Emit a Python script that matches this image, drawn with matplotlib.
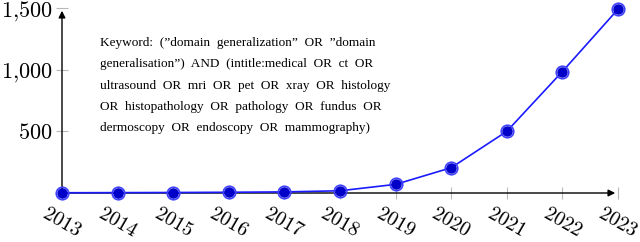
import matplotlib
matplotlib.use("Agg")
import matplotlib.pyplot as plt

plt.rcParams['mathtext.fontset'] = 'cm'

years = [2013, 2014, 2015, 2016, 2017, 2018, 2019, 2020, 2021, 2022, 2023]
counts = [2, 3, 4, 6, 9, 18, 70, 205, 500, 985, 1490]
yticks = [500, 1000, 1500]
ytick_labels = ['$500$', '$1{,}000$', '$1{,}500$']

note_lines = [
    'Keyword: (\u201ddomain generalization\u201d OR \u201ddomain',
    'generalisation\u201d) AND (intitle:medical OR ct OR',
    'ultrasound OR mri OR pet OR xray OR histology',
    'OR histopathology OR pathology OR fundus OR',
    'dermoscopy OR endoscopy OR mammography)',
]

fig = plt.figure(figsize=(6.4, 2.42), dpi=100)
ax = fig.add_axes([62 / 640, 1 - 193 / 242, (618 - 62) / 640, (193 - 8) / 242])

ax.plot(years, counts, color='#1a1aff', lw=1.2, zorder=3, clip_on=False)
ax.plot(years, counts, ls='none', marker='o', ms=9, mfc='none', mec='#4040ff', mew=1.2,
        zorder=4, clip_on=False)
ax.plot(years, counts, ls='none', marker='o', ms=6.5, mfc='#0000c8', mec='#0000c8',
        zorder=5, clip_on=False)

ax.set_xlim(2013, 2023)
ax.set_ylim(0, 1500)
for s in ax.spines.values():
    s.set_visible(False)

# axis lines with arrows
ax.annotate('', xy=(1.0, 0), xytext=(0, 0), xycoords='axes fraction',
            arrowprops=dict(arrowstyle='-|>', color='black', lw=1.0, mutation_scale=10), zorder=2)
ax.annotate('', xy=(0, 1.0), xytext=(0, 0), xycoords='axes fraction',
            arrowprops=dict(arrowstyle='-|>', color='black', lw=1.0, mutation_scale=10), zorder=2)

ax.set_xticks(years)
ax.set_xticklabels(['$%d$' % y for y in years], rotation=-30, ha='center', va='top',
                   fontsize=14.5)
ax.set_yticks(yticks)
ax.set_yticklabels(ytick_labels, fontsize=16)
ax.tick_params(axis='both', direction='inout', length=9, color='#b8b8b8', width=0.8, pad=2)
ax.tick_params(axis='x', pad=3)

for i, line in enumerate(note_lines):
    fig.text(100 / 640, 1 - (43 + 21.3 * i) / 242, line.replace(' ', '  '), fontsize=9.5,
             family='Liberation Serif', ha='left', va='center')

fig.savefig('out.png', dpi=100)
